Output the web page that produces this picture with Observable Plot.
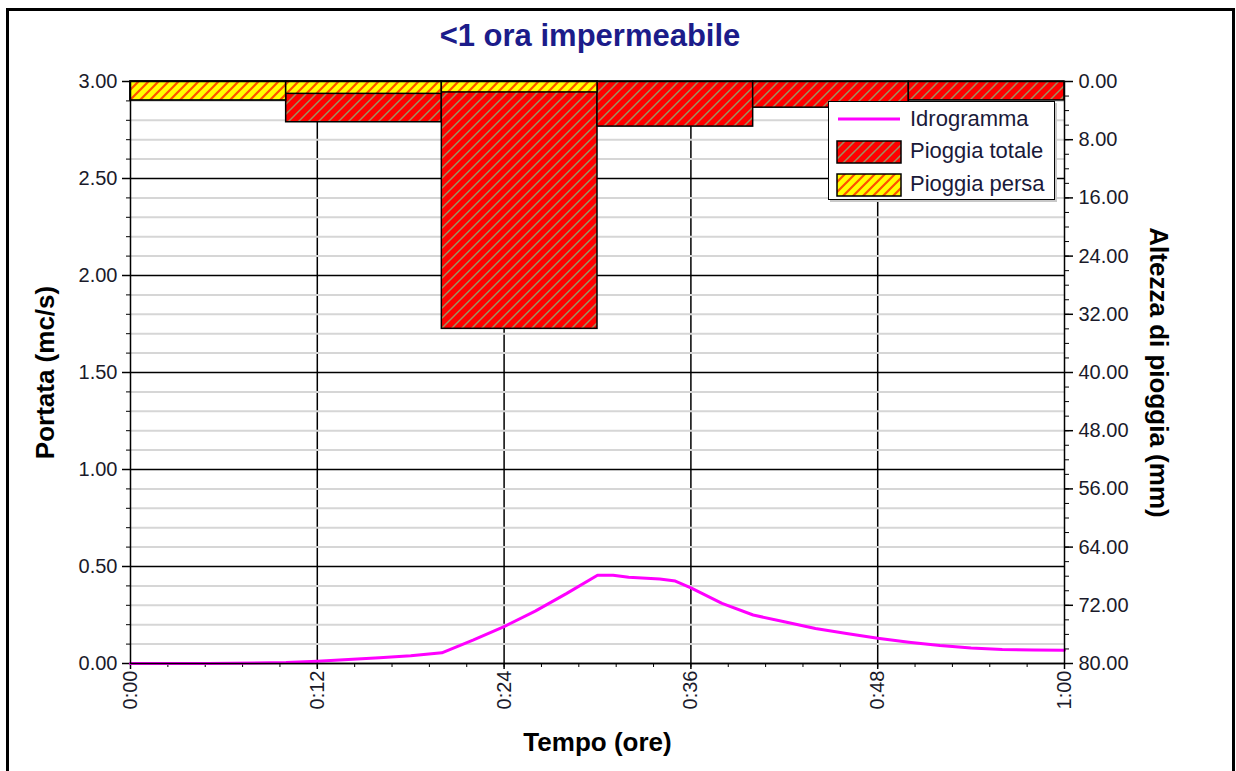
<!DOCTYPE html>
<html>
<head>
<meta charset="utf-8">
<script src="https://cdn.jsdelivr.net/npm/d3@7"></script>
<script src="https://cdn.jsdelivr.net/npm/@observablehq/plot@0.6"></script>
<style>
  body { margin: 0; background: #fff; font-family: "Liberation Sans", Arial, sans-serif; }
  #wrap { position: relative; width: 1236px; height: 771px; overflow: hidden; background: #fff; }
  #wrap svg.layer { position: absolute; left: 0; top: 0; }
  #border { position: absolute; left: 6px; top: 8px; width: 1229px; height: 800px; border: 3px solid #000; box-sizing: border-box; pointer-events: none; }
  #title { position: absolute; left: 0; width: 1180px; top: 18px; text-align: center; font-size: 31px; font-weight: bold; color: #1c1c8a; }
  #legend { position: absolute; left: 828px; top: 101px; width: 227px; height: 99px; border: 1.5px solid #000; background: #fff; box-sizing: border-box; box-shadow: 2px 2px 0 #c8c8c8; }
  .lrow { position: absolute; left: 0; height: 30px; width: 100%; }
  .lrow svg { position: absolute; left: 7px; top: 4px; }
  .lrow span { position: absolute; left: 81px; top: 2px; font-size: 22px; color: #1a1a3a; white-space: nowrap; }
</style>
</head>
<body>
<svg width="0" height="0" style="position:absolute">
  <defs>
    <pattern id="hatchRed" patternUnits="userSpaceOnUse" width="10" height="10">
      <rect width="10" height="10" fill="#ff0000"/>
      <path d="M-2,2 L2,-2 M0,10 L10,0 M8,12 L12,8" stroke="#9c9060" stroke-width="1.5"/>
    </pattern>
    <pattern id="hatchYellow" patternUnits="userSpaceOnUse" width="10" height="10">
      <rect width="10" height="10" fill="#ffff00"/>
      <path d="M-2,2 L2,-2 M0,10 L10,0 M8,12 L12,8" stroke="#ff5000" stroke-width="2.2"/>
    </pattern>
  </defs>
</svg>
<div id="wrap">
  <div id="border"></div>
  <div id="title">&lt;1 ora impermeabile</div>
</div>
<script>
// ---- Data ----
const barStart = [0, 10, 20, 30, 40, 50];          // minutes
const barEnd = [10, 20, 30, 40, 50, 60];           // minutes
const rainTotal = [2.6, 5.6, 34.0, 6.2, 3.6, 2.6]; // mm
const rainLost = [2.6, 1.7, 1.5, 0, 0, 0];         // mm

const hydroTime = [0, 5, 10, 12, 14, 16, 18, 20, 22, 24, 26, 28, 30, 31, 32, 34, 35, 36, 38, 40, 42, 44, 46, 48, 50, 52, 54, 56, 58, 60];
const hydroFlow = [0, 0, 0.005, 0.012, 0.02, 0.03, 0.04, 0.055, 0.12, 0.19, 0.27, 0.36, 0.455, 0.455, 0.445, 0.435, 0.425, 0.39, 0.31, 0.25, 0.215, 0.18, 0.155, 0.13, 0.11, 0.093, 0.08, 0.072, 0.07, 0.068];

const xTicks = [0, 12, 24, 36, 48, 60];
const xTickLabels = ["0:00", "0:12", "0:24", "0:36", "0:48", "1:00"];
const xMinorTicks = d3.range(0, 60.001, 2.4);
const yTicksLeft = [0, 0.5, 1, 1.5, 2, 2.5, 3];
const yMinorLeft = d3.range(0, 3.001, 0.1).map(v => +v.toFixed(2));
const yTicksRight = [0, 8, 16, 24, 32, 40, 48, 56, 64, 72, 80];
const yMinorRight = d3.range(0, 80.001, 2);

const titleText = "<1 ora impermeabile";
const yLabelLeft = "Portata (mc/s)";
const yLabelRight = "Altezza di pioggia (mm)";
const xLabel = "Tempo (ore)";
const legendNames = ["Idrogramma", "Pioggia totale", "Pioggia persa"];

// ---- Build tables ----
const rain = barStart.map((s, i) => ({start: s, end: barEnd[i], total: rainTotal[i], lost: rainLost[i]}));
const hydro = hydroTime.map((t, i) => ({t, q: hydroFlow[i]}));

const W = 1236, H = 771;
const common = {
  width: W, height: H,
  marginLeft: 130, marginRight: 172, marginTop: 81, marginBottom: 108,
  style: {background: "transparent", fontFamily: "'Liberation Sans', Arial, sans-serif", fontSize: "20px", color: "#1a1a2a", overflow: "visible"}
};

const fmtX = d => xTickLabels[xTicks.indexOf(d)];

const p1 = Plot.plot({
  ...common,
  x: {domain: [0, 60], axis: null},
  y: {domain: [0, 3], axis: null},
  marks: [
    Plot.ruleX(xTicks.slice(1, -1), {stroke: "#000", strokeWidth: 1.5}),
    Plot.ruleY(yMinorLeft.filter(v => !yTicksLeft.includes(v)), {stroke: "#d6d6d6", strokeWidth: 2}),
    Plot.ruleY(yTicksLeft, {stroke: "#000", strokeWidth: 1.5}),
    Plot.axisY(yMinorLeft, {tickSize: 4, tickFormat: () => "", label: null, stroke: "#000"}),
    Plot.axisY(yTicksLeft, {tickSize: 8, tickPadding: 5, tickFormat: d => d.toFixed(2), label: null, stroke: "#000", strokeWidth: 1.5}),
    Plot.axisX(xMinorTicks, {tickSize: 4, tickFormat: () => "", label: null, stroke: "#000"}),
    Plot.axisX(xTicks, {tickSize: 6, tickPadding: 1, tickRotate: -90, tickFormat: fmtX, label: null, stroke: "#000", strokeWidth: 1.5}),
    Plot.line(hydro, {x: "t", y: "q", stroke: "#ff00ff", strokeWidth: 3}),
    Plot.text([yLabelLeft], {frameAnchor: "left", dx: -85, rotate: -90, textAnchor: "middle", fontWeight: "bold", fontSize: 26, fill: "#000"}),
    Plot.text([xLabel], {frameAnchor: "bottom", dy: 87, textAnchor: "middle", fontWeight: "bold", fontSize: 26, fill: "#000"})
  ]
});
p1.classList.add("layer");

const p2 = Plot.plot({
  ...common,
  x: {domain: [0, 60], axis: null},
  y: {domain: [0, 80], reverse: true, axis: null},
  marks: [
    Plot.rect(rain, {x1: "start", x2: "end", y1: 0, y2: "total", fill: "url(#hatchRed)", stroke: "#000", strokeWidth: 1.5}),
    Plot.rect(rain.filter(d => d.lost > 0), {x1: "start", x2: "end", y1: 0, y2: "lost", fill: "url(#hatchYellow)", stroke: "#000", strokeWidth: 1.5}),
    Plot.axisY(yMinorRight, {anchor: "right", tickSize: 4, tickFormat: () => "", label: null, stroke: "#000"}),
    Plot.axisY(yTicksRight, {anchor: "right", tickSize: 8, tickPadding: 6, tickFormat: d => d.toFixed(2), label: null, stroke: "#000", strokeWidth: 1.5}),
    Plot.frame({stroke: "#000", strokeWidth: 1.5}),
    Plot.text([yLabelRight], {frameAnchor: "right", dx: 94, rotate: 90, textAnchor: "middle", fontWeight: "bold", fontSize: 26, fill: "#000"})
  ]
});
p2.classList.add("layer");

const wrap = document.getElementById("wrap");
wrap.insertBefore(p1, document.getElementById("border"));
wrap.insertBefore(p2, document.getElementById("border"));

// ---- Legend ----
const legend = document.createElement("div");
legend.id = "legend";
const swatches = [
  '<svg width="66" height="22"><line x1="2" y1="11" x2="64" y2="11" stroke="#ff00ff" stroke-width="3"/></svg>',
  '<svg width="66" height="24"><rect x="1" y="1" width="64" height="22" fill="url(#hatchRed)" stroke="#000" stroke-width="1.5"/></svg>',
  '<svg width="66" height="24"><rect x="1" y="1" width="64" height="22" fill="url(#hatchYellow)" stroke="#000" stroke-width="1.5"/></svg>'
];
const rowTops = [2, 34, 67];
legendNames.forEach((name, i) => {
  const row = document.createElement("div");
  row.className = "lrow";
  row.style.top = rowTops[i] + "px";
  row.innerHTML = swatches[i] + "<span></span>";
  row.querySelector("span").textContent = name;
  legend.appendChild(row);
});
wrap.appendChild(legend);
document.getElementById("title").textContent = titleText;
</script>
</body>
</html>
